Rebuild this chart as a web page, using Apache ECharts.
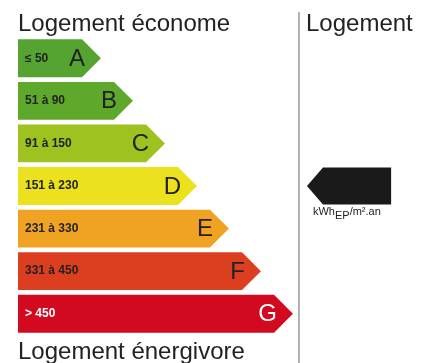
<!DOCTYPE html>
<html>
<head>
<meta charset="utf-8">
<script src="https://cdn.jsdelivr.net/npm/echarts@6/dist/echarts.min.js"></script>
<style>
  html, body { margin: 0; padding: 0; background: #fff; }
  #chart { width: 428px; height: 363px; }
</style>
</head>
<body>
<div id="chart"></div>
<script>
// classes énergie (DPE)
const classes = ['A', 'B', 'C', 'D', 'E', 'F', 'G'];
const ranges = ['≤ 50', '51 à 90', '91 à 150', '151 à 230', '231 à 330', '331 à 450', '> 450'];
const barLengths = [2, 3, 4, 5, 6, 7, 8];
const currentClass = 'D';
const unitLabel = ['kWh', 'EP', '/m².an'];
const topTitle = 'Logement économe';
const bottomTitle = 'Logement énergivore';
const rightTitle = 'Logement';

const palette = ['#55a431', '#5ea82c', '#9ec21f', '#ebe11e', '#f0a322', '#dc3f1f', '#d10a20'];
const FONT = '"Liberation Sans", Arial, Helvetica, sans-serif';

const chart = echarts.init(document.getElementById('chart'));

chart.setOption({
  animation: false,
  grid: { left: 18, right: 0, top: 37, bottom: 28 },
  xAxis: { type: 'value', min: 0, max: 12.8125, show: false },
  yAxis: { type: 'category', data: classes, inverse: true, show: false },
  graphic: [
    { type: 'text', left: 18, top: 12, style: { text: topTitle, font: '24px ' + FONT, fill: '#222' } },
    { type: 'text', left: 306, top: 12, style: { text: rightTitle, font: '24px ' + FONT, fill: '#222' } },
    { type: 'text', left: 18, top: 340, style: { text: bottomTitle, font: '24px ' + FONT, fill: '#222' } },
    { type: 'line', shape: { x1: 299, y1: 12, x2: 299, y2: 363 }, style: { stroke: '#9a9a9a', lineWidth: 1.5 } }
  ],
  series: [
    {
      type: 'custom',
      data: barLengths.map((v, i) => [v, i]),
      renderItem: (params, api) => {
        const i = params.dataIndex;
        const start = api.coord([0, api.value(1)]);
        const end = api.coord([api.value(0), api.value(1)]);
        const h = api.size([0, 1])[1] * 0.89;
        const tip = h / 2;
        const y0 = start[1] - h / 2;
        const y1 = start[1] + h / 2;
        const txt = i === 6 ? '#fff' : '#222';
        return {
          type: 'group',
          children: [
            {
              type: 'polygon',
              shape: { points: [[start[0], y0], [end[0], y0], [end[0] + tip, start[1]], [end[0], y1], [start[0], y1]] },
              style: { fill: palette[i] }
            },
            {
              type: 'text', x: start[0] + 7, y: start[1],
              style: { text: ranges[i], font: 'bold 12px ' + FONT, fill: txt, verticalAlign: 'middle' }
            },
            {
              type: 'text', x: end[0] + 3, y: start[1] + 1,
              style: { text: classes[i], font: '24px ' + FONT, fill: txt, align: 'right', verticalAlign: 'middle' }
            }
          ]
        };
      }
    },
    {
      // flèche du logement
      type: 'custom',
      data: [[0, classes.indexOf(currentClass)]],
      renderItem: (params, api) => {
        const c = api.coord([0, api.value(1)]);
        const tipX = api.coord([9.03, 0])[0];
        const endX = api.coord([11.66, 0])[0];
        const h = api.size([0, 1])[1] * 0.87;
        const y0 = c[1] - h / 2;
        const y1 = c[1] + h / 2;
        return {
          type: 'group',
          children: [
            {
              type: 'polygon',
              shape: { points: [[tipX, c[1]], [tipX + 16, y0], [endX, y0], [endX, y1], [tipX + 16, y1]] },
              style: { fill: '#1a1a1a' }
            },
            {
              type: 'text', x: tipX + 6, y: y1 + 2,
              style: {
                text: '{a|' + unitLabel[0] + '}{s|' + unitLabel[1] + '}{a|' + unitLabel[2] + '}',
                rich: {
                  a: { font: '11px ' + FONT, fill: '#222', lineHeight: 15, verticalAlign: 'top' },
                  s: { font: '11px ' + FONT, fill: '#222', lineHeight: 15, verticalAlign: 'bottom' }
                }
              }
            }
          ]
        };
      }
    }
  ]
});
</script>
</body>
</html>
